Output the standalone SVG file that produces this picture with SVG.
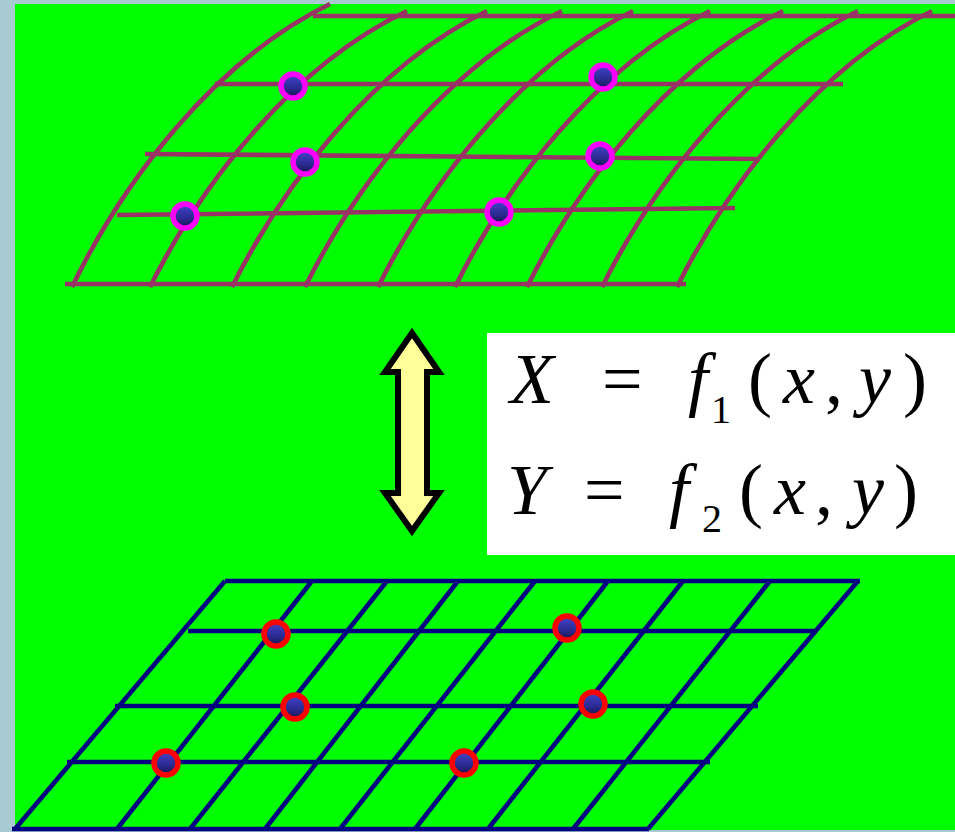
<svg xmlns="http://www.w3.org/2000/svg" width="955" height="832" viewBox="0 0 955 832">
<style>
.top{stroke:#993366;stroke-width:4.6;fill:none}
.bot{stroke:#000080;stroke-width:4.6;fill:none}
.dm{fill:url(#dotg);stroke:#ff00ff;stroke-width:5.5}
.dr{fill:url(#dotg);stroke:#ff0000;stroke-width:5.5}
.m{font-family:"Liberation Serif","Times New Roman",serif;font-size:72px;fill:#000}
.i{font-style:italic}
.s{font-size:40px}
</style>
<defs>
<linearGradient id="dotg" x1="0" y1="0" x2="0" y2="1">
<stop offset="0" stop-color="#4545d0"/>
<stop offset="0.6" stop-color="#2a2a90"/>
<stop offset="1" stop-color="#15154a"/>
</linearGradient>
</defs>
<g id="background">
<rect x="0" y="0" width="955" height="832" fill="#a7cbd0"/>
<rect x="15" y="4" width="940" height="826" fill="#00ff00"/>
</g>
<g id="surface-top">
<path class="top" d="M313,16H955M215,84H843M145,154L760,159M117,215L735,208M65,284H686"/>
<path class="top" d="M72,287c50,-103 141,-226 258,-283"/>
<path class="top" d="M150,287c50,-100 140,-220 257,-276M232,287c50,-100 140,-220 255,-276M305,287c50,-100 140,-220 257,-276M378,287c50,-100 140,-220 255,-276M455,287c50,-100 140,-220 255,-276M527,287c50,-100 140,-220 256,-276M602,287c50,-100 140,-220 256,-276M677,287c50,-100 140,-220 255,-276"/>
</g>
<g id="plane-bottom">
<path class="bot" d="M225,581H860M188,631H817M115,706H758M67,762H710"/>
<path class="bot" stroke-width="5" d="M12,829H649"/>
<path class="bot" d="M225,581L15,829M312,581L117,829M387,581L190,829M458,581L265,829M535,581L340,829M608,581L415,829M683,581L488,829M770,581L573,829M858,581L648,829"/>
</g>
<g id="points-top">
<circle class="dm" cx="293" cy="86" r="12"/>
<circle class="dm" cx="305" cy="162" r="12"/>
<circle class="dm" cx="185" cy="216" r="12"/>
<circle class="dm" cx="603" cy="77" r="12"/>
<circle class="dm" cx="600" cy="156" r="12"/>
<circle class="dm" cx="499" cy="212" r="12"/>
</g>
<g id="points-bottom">
<circle class="dr" cx="276" cy="634" r="12"/>
<circle class="dr" cx="295" cy="707" r="12"/>
<circle class="dr" cx="166" cy="763" r="12"/>
<circle class="dr" cx="464" cy="763" r="12"/>
<circle class="dr" cx="567" cy="628" r="12"/>
<circle class="dr" cx="593" cy="704" r="12"/>
</g>
<g id="arrow">
<path d="M412,333L439,372L427,372L427,493L439,493L412,531L385,493L398,493L398,372L385,372Z" fill="#ffff99" stroke="#000" stroke-width="6" stroke-linejoin="miter"/>
</g>
<g id="formula">
<rect x="487" y="333" width="468" height="222" fill="#ffffff"/>
<text class="m" y="403"><tspan class="i" x="510">X</tspan><tspan x="602">=</tspan><tspan class="i" x="688">f</tspan><tspan class="s" x="711" y="423">1</tspan><tspan x="748" y="403">(</tspan><tspan class="i" x="783">x</tspan><tspan x="825">,</tspan><tspan class="i" x="859">y</tspan><tspan x="903">)</tspan></text>
<text class="m" y="514"><tspan class="i" x="507">Y</tspan><tspan x="584">=</tspan><tspan class="i" x="669">f</tspan><tspan class="s" x="702" y="532">2</tspan><tspan x="739" y="514">(</tspan><tspan class="i" x="774">x</tspan><tspan x="815">,</tspan><tspan class="i" x="852">y</tspan><tspan x="894">)</tspan></text>
</g>
</svg>
